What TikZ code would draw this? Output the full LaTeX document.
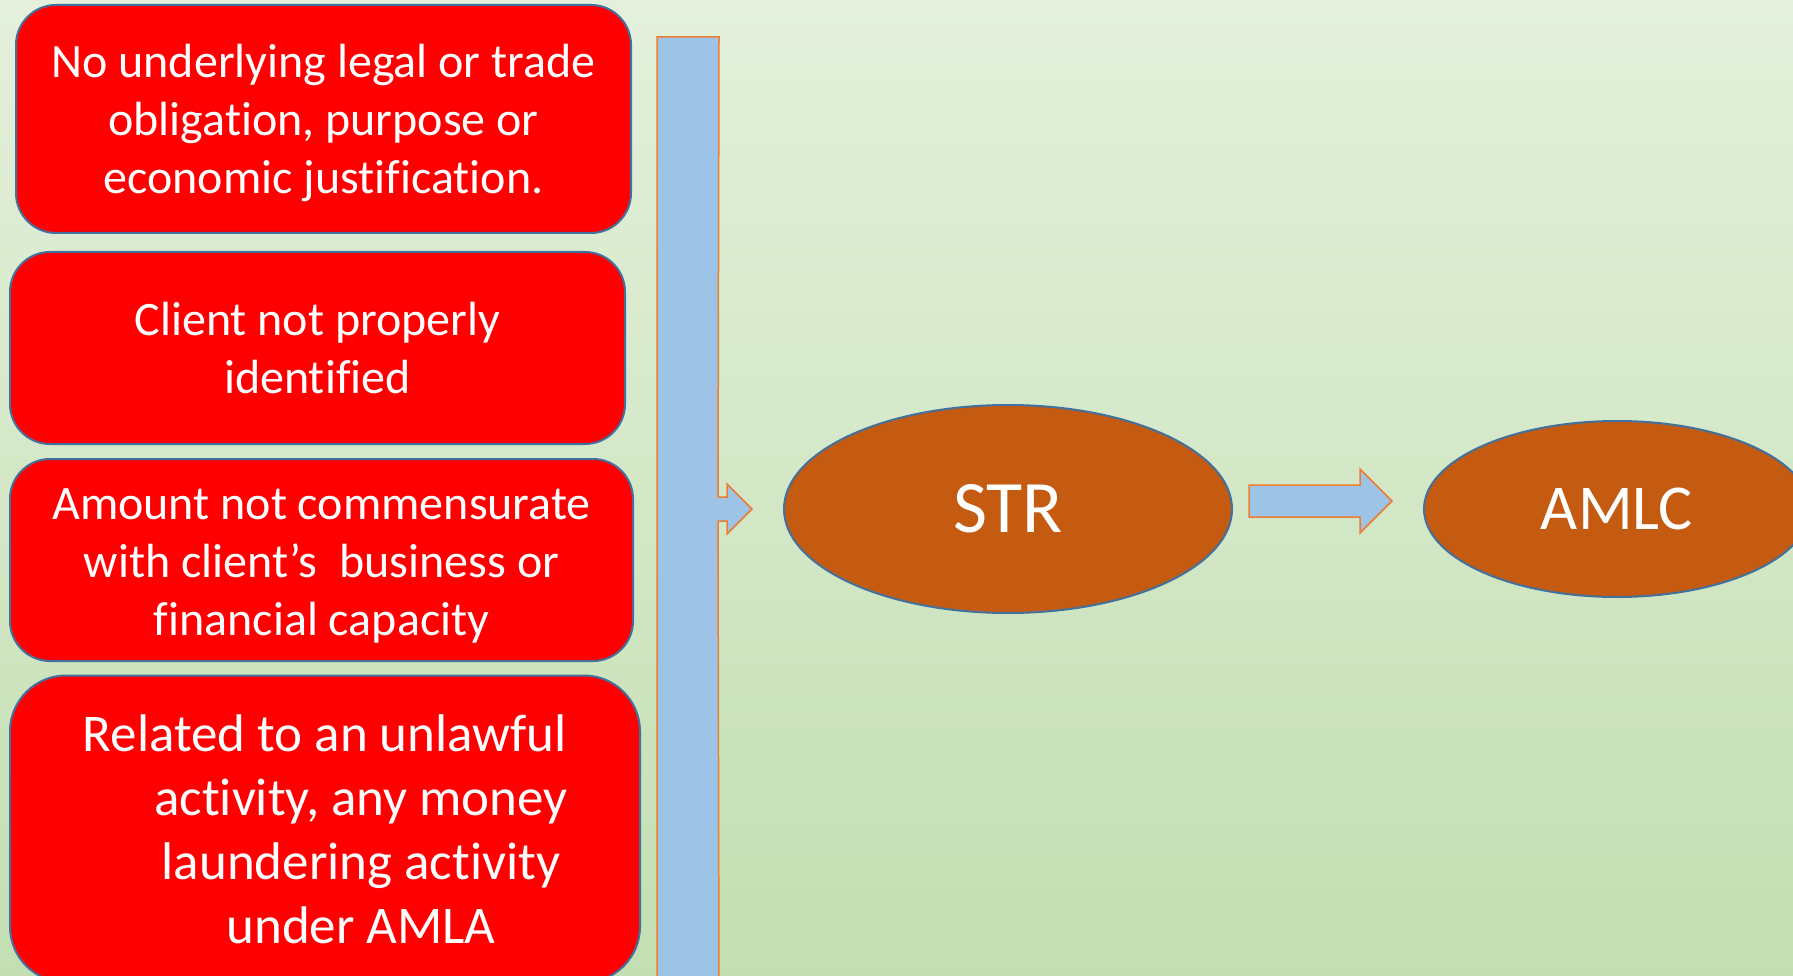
\documentclass[tikz,border=0pt]{standalone}
\usepackage{fontspec}
\setmainfont{Carlito}[Ligatures=NoCommon]
\usetikzlibrary{positioning, calc, shapes.geometric}
\definecolor{bgtop}{HTML}{E4F0DC}
\definecolor{bgmid}{HTML}{CBE3BC}
\definecolor{bgbot}{HTML}{C3DFB2}
\definecolor{flagred}{HTML}{FF0000}
\definecolor{edgeblue}{HTML}{41719C}
\definecolor{rust}{HTML}{C55A11}
\definecolor{skyblue}{HTML}{9DC3E6}
\definecolor{tangerine}{HTML}{ED7D31}

% last line without descender depth
\newcommand{\flatline}[1]{\raisebox{0pt}[\height][0pt]{#1}}

\begin{document}
\begin{tikzpicture}[x=1pt, y=-1pt,
  redflag/.style={draw=edgeblue, line width=2pt, fill=flagred, text=white,
    rounded corners=40pt, align=center, inner sep=0pt,
    font=\fontsize{48}{58}\selectfont},
  outcome/.style={ellipse, draw=edgeblue, line width=2pt, fill=rust, text=white,
    inner sep=0pt},
  blockarrow/.style={draw=tangerine, line width=1.5pt, fill=skyblue, line join=miter}]

% Background
\useasboundingbox (0,0) rectangle (1793,976);
\clip (0,0) rectangle (1793,976);
\shade[top color=bgtop, middle color=bgmid, bottom color=bgbot] (0,0) rectangle (1793,976);

% ============================================================
% Indicators
% ============================================================
\node[redflag, minimum width=615pt, minimum height=228pt] (legal) at (323.5,119)
  {No underlying legal or trade\\obligation, purpose or\\\flatline{economic justification.}};
\node[redflag, minimum width=615pt, minimum height=192pt] (ident) at (317.5,348)
  {Client not properly\\identified};
\node[redflag, minimum width=623pt, minimum height=202pt] (amount) at (321.5,560)
  {\rule{0pt}{34pt}Amount not commensurate\\with client’s~ business or\\\flatline{financial capacity}};
\node[redflag, minimum width=630pt, minimum height=307pt, rounded corners=56pt,
  font=\fontsize{53}{64}\selectfont] (unlawful) at (325,829)
  {Related to an unlawful\\\hspace*{72pt}activity, any money\\
   \hspace*{72pt}laundering activity\\\hspace*{72pt}under AMLA};

% ============================================================
% Reports
% ============================================================
\node[outcome, minimum width=448pt, minimum height=208pt,
  font=\fontsize{74}{80}\selectfont] (str) at (1008,509) {STR};
\node[outcome, minimum width=386pt, minimum height=176pt,
  font=\fontsize{64}{70}\selectfont] (amlc) at (1617,509) {AMLC};

% Collecting bar with its arrow into the STR
\draw[blockarrow] (657,37) -- (719,37) -- ($(str.west)+(-65,-12)$) -- ($(str.west)+(-56,-12)$)
  -- ($(str.west)+(-56,-25)$) -- ($(str.west)+(-31,0)$) -- ($(str.west)+(-56,25)$)
  -- ($(str.west)+(-56,12)$) -- ($(str.west)+(-65,12)$) -- (719,1000) -- (657,1000) -- cycle;

% STR to AMLC
\draw[blockarrow] ($(str.east)+(16,-24)$) -- ($(amlc.west)+(-63,-24)$) -- ($(amlc.west)+(-63,-40)$)
  -- ($(amlc.west)+(-31,-8)$) -- ($(amlc.west)+(-63,24)$) -- ($(amlc.west)+(-63,8)$)
  -- ($(str.east)+(16,8)$) -- cycle;

\end{tikzpicture}
\end{document}
